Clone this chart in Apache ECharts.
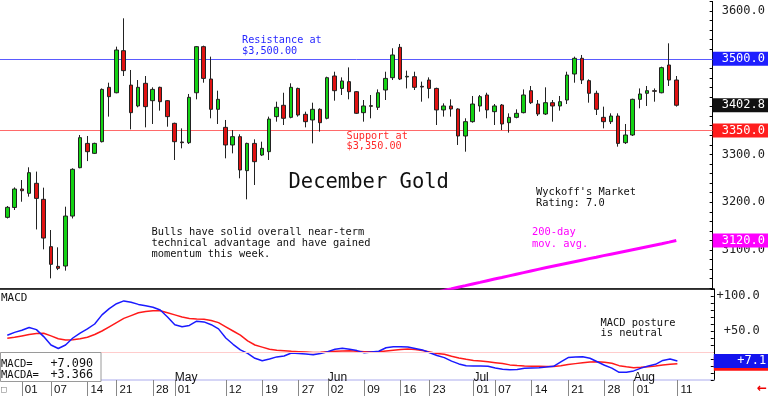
<!DOCTYPE html>
<html>
<head>
<meta charset="utf-8">
<script src="https://cdn.jsdelivr.net/npm/echarts@6/dist/echarts.min.js"></script>
<style>html,body{margin:0;padding:0;background:#fff}#c{width:768px;height:396px}</style>
</head>
<body>
<div id="c"></div>
<script>
// ---- data ----
const dates = ['03-28','03-31','04-01','04-02','04-03','04-04','04-07','04-08','04-09','04-10','04-11','04-14','04-15','04-16','04-17','04-21','04-22','04-23','04-24','04-25','04-28','04-29','04-30','05-01','05-02','05-05','05-06','05-07','05-08','05-09','05-12','05-13','05-14','05-15','05-16','05-19','05-20','05-21','05-22','05-23','05-27','05-28','05-29','05-30','06-02','06-03','06-04','06-05','06-06','06-09','06-10','06-11','06-12','06-13','06-16','06-17','06-18','06-20','06-23','06-24','06-25','06-26','06-27','06-30','07-01','07-02','07-03','07-07','07-08','07-09','07-10','07-11','07-14','07-15','07-16','07-17','07-18','07-21','07-22','07-23','07-24','07-25','07-28','07-29','07-30','07-31','08-01','08-04','08-05','08-06','08-07','08-08','08-11'];

const opens = [3168.3,3189.0,3227.6,3218.6,3239.5,3206.0,3107.0,3065.8,3066.5,3171.0,3272.2,3323.0,3302.2,3326.6,3440.3,3429.0,3517.0,3445.0,3401.3,3448.7,3412.4,3440.3,3412.4,3365.0,3326.0,3324.5,3429.0,3525.4,3457.7,3394.3,3356.6,3319.7,3337.1,3266.0,3323.0,3298.7,3305.7,3379.0,3402.7,3377.5,3438.0,3383.8,3372.0,3394.3,3375.5,3464.0,3438.0,3452.2,3431.2,3387.3,3402.0,3398.5,3434.7,3460.5,3524.0,3462.0,3462.6,3442.4,3455.6,3438.0,3393.0,3401.3,3395.0,3338.5,3368.5,3401.3,3424.3,3389.4,3403.3,3366.4,3377.5,3387.3,3433.3,3405.4,3384.5,3408.2,3401.3,3413.8,3468.2,3501.0,3454.3,3427.8,3377.5,3368.5,3380.3,3324.5,3340.6,3415.2,3427.8,3433.3,3429.0,3487.0,3455.6];
const closes = [3189.3,3227.6,3224.0,3261.8,3208.0,3125.0,3070.0,3061.6,3171.0,3268.8,3335.0,3305.7,3323.0,3436.0,3420.8,3518.4,3475.2,3387.3,3440.3,3399.9,3436.0,3410.3,3379.0,3326.6,3324.5,3419.4,3525.4,3459.0,3394.3,3415.2,3319.7,3337.1,3267.4,3323.0,3284.8,3312.7,3374.0,3398.5,3375.5,3440.3,3382.4,3368.5,3394.3,3366.4,3460.5,3433.3,3453.6,3431.2,3386.0,3401.3,3400.6,3429.0,3459.0,3508.0,3457.7,3463.3,3440.3,3441.0,3438.0,3393.0,3401.3,3395.0,3338.5,3368.5,3405.4,3420.8,3393.0,3401.3,3363.6,3377.5,3385.9,3424.3,3408.2,3384.5,3408.2,3401.3,3410.3,3466.0,3501.0,3455.6,3427.8,3394.3,3368.5,3380.3,3323.0,3340.6,3415.2,3426.4,3433.3,3432.0,3481.5,3455.6,3402.8];
const lows = [3166.0,3183.7,3201.0,3211.6,3143.0,3101.4,3040.7,3058.0,3056.8,3166.0,3271.0,3286.0,3300.8,3325.0,3379.0,3427.8,3464.0,3352.4,3398.5,3356.6,3363.6,3391.5,3358.0,3288.3,3312.7,3321.8,3415.2,3450.0,3375.5,3363.6,3291.8,3302.2,3250.0,3206.0,3236.0,3296.7,3288.3,3368.5,3361.5,3375.5,3379.0,3356.6,3323.0,3347.6,3373.4,3412.4,3424.3,3415.2,3384.5,3368.5,3375.5,3393.0,3413.8,3455.6,3455.6,3438.0,3434.7,3410.3,3417.3,3361.5,3379.0,3379.0,3319.7,3305.7,3366.4,3389.4,3375.5,3361.5,3351.0,3345.5,3375.5,3385.9,3405.4,3380.3,3382.4,3368.5,3391.5,3405.4,3450.0,3447.3,3408.2,3382.4,3354.5,3363.6,3316.2,3321.8,3338.5,3396.4,3401.3,3410.3,3427.8,3443.1,3400.0];
const highs = [3192.0,3231.0,3246.4,3273.0,3264.0,3230.4,3141.8,3105.6,3190.6,3271.0,3340.6,3338.5,3324.5,3438.0,3450.0,3525.4,3584.7,3476.6,3455.6,3464.0,3440.3,3441.7,3413.8,3366.4,3354.5,3426.4,3526.8,3527.5,3504.5,3433.3,3372.0,3351.0,3342.0,3324.5,3331.5,3326.6,3379.0,3410.3,3429.0,3448.7,3439.6,3389.4,3408.2,3396.4,3462.6,3473.0,3461.2,3482.0,3432.6,3413.8,3424.3,3436.0,3473.0,3522.0,3531.0,3475.2,3473.0,3452.2,3461.2,3439.6,3406.8,3415.2,3396.4,3375.5,3422.2,3424.3,3429.0,3405.4,3405.4,3385.9,3394.3,3436.0,3443.1,3413.8,3440.3,3413.8,3422.2,3473.0,3504.5,3508.0,3457.0,3433.3,3399.9,3385.9,3385.9,3363.6,3416.6,3438.0,3443.1,3438.0,3483.5,3532.4,3464.0];

// 200-day moving average, starting at ma200Start
const ma200Start = '06-23';
const ma200 = [3008.0,3011.6,3015.1,3018.5,3022.0,3025.4,3028.9,3032.3,3035.8,3039.2,3042.5,3045.9,3049.3,3052.7,3056.1,3059.4,3062.7,3065.9,3069.1,3072.3,3075.5,3078.7,3081.9,3085.0,3088.2,3091.3,3094.4,3097.5,3100.6,3103.7,3106.8,3109.9,3113.0,3116.4,3120.0];

const macd = [44,48,51,55,52,42,30,25,30,40,47,53,60,73,82,89,93,91,88,86,84,80,70,59,56,58,64,63,59,53,40,31,23,18,11,7.6,10,13,14.3,18.5,18,17,16,18,20.5,24,25.5,24,22,19,20,21,26,27.6,27.6,27,25,23,19,15,12,7,3,0.5,0,0,-0.5,-3,-4.5,-5.5,-5,-3.3,-2.8,-2.4,-1.5,-0.5,6,12,13,13.3,11,6,1,-3,-9,-9,-7,-3,0,2.4,8,10,7.09];
const macda = [39.5,41,43,45,46.5,46.7,43,39,37,37.5,39,41,45,50,56,62,68,72,76,78,79,78.8,76,73,70,68,67,66.7,65,62,56,50,44,36,30,27,24,22.5,21.9,21,20.5,20,19.2,19.5,20.3,21,21.5,21.9,21,20.5,20.5,20.5,21.5,22.5,23.5,24.3,23.5,22,20,18,16.7,14,11.5,9.5,8,7,6,4.8,3.5,1.6,0.8,0.1,-0.2,-0.4,-0.6,-0.8,0.5,2,3.4,4.8,5.6,6.2,5.5,4,0.5,-1,-2.4,-1.8,-1,0,1.4,2.5,3.366];

const resistance = 3500;
const support = 3350;
const macdRefLevel = 19;

const dayTicks = ['04-01','04-07','04-14','04-21','04-28','05-01','05-12','05-19','05-27','06-02','06-09','06-16','06-23','07-01','07-07','07-14','07-21','07-28','08-01','08-11'];
const monthTicks = ['05-01','06-02','07-01','08-01'];
const monthNames = ['May','Jun','Jul','Aug'];

// ---- build ----
const cats = ['s0'].concat(dates, ['e1','e2','e3','e4','e5']);
const pos = d => dates.indexOf(d) + 1;
const candleData = dates.map((d, i) => [i + 1, opens[i], closes[i], lows[i], highs[i]]);
const maData = ma200.map((v, k) => [pos(ma200Start) + k, v]);
const macdData = macd.map((v, i) => [i + 1, v]);
const macdaData = macda.map((v, i) => [i + 1, v]);

const MONO = 'DejaVu Sans Mono';
const SANS = 'Liberation Sans';

function box(bg, text) {
  return {
    show: true, position: 'end', distance: 0, formatter: text,
    color: '#fff', backgroundColor: bg, fontFamily: MONO, fontSize: 12,
    lineHeight: 12, padding: [1, 4, 1, 9]
  };
}
const noLine = { color: 'rgba(0,0,0,0)', width: 0.01 };

const isDayTick = (idx, val) => dayTicks.indexOf(val) >= 0;
const isMonthTick = (idx, val) => monthTicks.indexOf(val) >= 0;

function txt(x, y, text, opt) {
  return {
    type: 'text', x: x, y: y, z: 101, silent: true,
    style: Object.assign({
      text: text, fill: '#111', fontFamily: MONO, fontSize: 10.4,
      verticalAlign: 'top', align: 'left'
    }, opt || {})
  };
}

const chart = echarts.init(document.getElementById('c'), null, { renderer: 'canvas' });
chart.setOption({
  animation: false,
  backgroundColor: '#fff',
  grid: [
    { left: -1.5, right: 54.2, top: 1.44, height: 286.8 },
    { left: -1.5, right: 54.2, top: 289, height: 91 }
  ],
  xAxis: [
    { type: 'category', gridIndex: 0, data: cats, boundaryGap: false,
      axisLine: { onZero: false, lineStyle: { color: '#aaa' } },
      axisTick: { show: false }, axisLabel: { show: false }, splitLine: { show: false } },
    { type: 'category', gridIndex: 1, data: cats, boundaryGap: false, position: 'bottom',
      axisLine: { onZero: false, lineStyle: { color: '#c8c8f4', width: 1.5 } },
      axisTick: { show: true, interval: isDayTick, length: 16, lineStyle: { color: '#888' } },
      axisLabel: { interval: isDayTick, formatter: v => v.slice(3), align: 'left',
        padding: [0, 0, 0, 3], margin: 4, fontFamily: SANS, fontSize: 11.5, color: '#111' },
      splitLine: { show: false } },
    { type: 'category', gridIndex: 1, data: cats, boundaryGap: false, position: 'bottom',
      axisLine: { show: false, onZero: false }, axisTick: { show: false },
      axisLabel: { inside: true, interval: isMonthTick,
        formatter: v => monthNames[monthTicks.indexOf(v)] || '', align: 'left',
        margin: -4, fontFamily: SANS, fontSize: 12, color: '#111' },
      splitLine: { show: false } },
    { type: 'category', gridIndex: 1, data: cats, boundaryGap: false, position: 'top',
      axisLine: { onZero: false, lineStyle: { color: '#000', width: 1.5 } },
      axisTick: { show: false }, axisLabel: { show: false }, splitLine: { show: false } }
  ],
  yAxis: [
    { type: 'value', gridIndex: 0, position: 'right', min: 3020, max: 3620, interval: 20, scale: true,
      axisLine: { show: true, lineStyle: { color: '#000' } },
      axisTick: { show: true, inside: true, length: 3, lineStyle: { color: '#000' } },
      splitLine: { show: false },
      axisLabel: { formatter: v => (v % 100 === 0 ? v.toFixed(1) : ''), margin: 9,
        fontFamily: MONO, fontSize: 12, color: '#222' } },
    { type: 'value', gridIndex: 1, position: 'right', min: -20, max: 110, interval: 10,
      axisLine: { show: true, lineStyle: { color: '#000' } },
      axisTick: { show: true, inside: true, length: 3, lineStyle: { color: '#000' } },
      splitLine: { show: false },
      axisLabel: { formatter: v => ((v === 50 || v === 100) ? '+' + v.toFixed(1) : ''),
        align: 'right', margin: 46, fontFamily: MONO, fontSize: 12, color: '#222' } }
  ],
  series: [
    { type: 'candlestick', xAxisIndex: 0, yAxisIndex: 0, data: candleData,
      encode: { x: 0, y: [1, 2, 3, 4] }, barWidth: 4, z: 3,
      itemStyle: { color: '#14d214', color0: '#e01212', borderColor: '#222', borderColor0: '#222', borderWidth: 1 },
      markLine: { silent: true, symbol: 'none', z: 2,
        data: [
          { yAxis: resistance, lineStyle: { color: '#5a5aff', width: 1, type: 'solid' }, label: box('#1e1eff', p => Number(p.value).toFixed(1)) },
          { yAxis: support, lineStyle: { color: '#ff6a6a', width: 1, type: 'solid' }, label: box('#ff1e1e', p => Number(p.value).toFixed(1)) },
          { yAxis: closes[closes.length - 1], lineStyle: noLine, label: box('#111', p => Number(p.value).toFixed(1)) }
        ] } },
    { type: 'line', xAxisIndex: 0, yAxisIndex: 0, data: maData, symbol: 'none', z: 2,
      lineStyle: { color: '#ff00ff', width: 3 },
      markLine: { silent: true, symbol: 'none',
        data: [ { yAxis: ma200[ma200.length - 1], lineStyle: noLine, label: box('#ff00ff', p => Number(p.value).toFixed(1)) } ] } },
    { type: 'line', xAxisIndex: 1, yAxisIndex: 1, data: macdaData, symbol: 'none', z: 3,
      lineStyle: { color: '#ff1a1a', width: 1.5 },
      markLine: { silent: true, symbol: 'none',
        data: [
          { yAxis: macdRefLevel, lineStyle: { color: '#ffcccc', width: 1, type: 'solid' }, label: { show: false } },
          { yAxis: macda[macda.length - 1], lineStyle: noLine, label: box('#ff1010', p => ('+' + Number(p.value).toFixed(1)).padStart(6, ' ')) }
        ] } },
    { type: 'line', xAxisIndex: 1, yAxisIndex: 1, data: macdData, symbol: 'none', z: 4,
      lineStyle: { color: '#1a1aff', width: 1.5 },
      markLine: { silent: true, symbol: 'none',
        data: [ { yAxis: macd[macd.length - 1], lineStyle: noLine, label: box('#1414ee', p => ('+' + Number(p.value).toFixed(1)).padStart(6, ' ')) } ] } }
  ],
  graphic: { elements: [
    txt(242, 35.5, 'Resistance at\n$3,500.00', { fill: '#2828ff', fontSize: 10.2, lineHeight: 10.5 }),
    txt(346.5, 131.7, 'Support at\n$3,350.00', { fill: '#ff2a2a', fontSize: 10.2, lineHeight: 10 }),
    txt(288.5, 182.5, 'December Gold', { fontSize: 20.5, verticalAlign: 'middle', fill: '#111' }),
    txt(536, 187.5, "Wyckoff's Market\nRating: 7.0", { lineHeight: 10.2 }),
    txt(151.5, 227.2, 'Bulls have solid overall near-term\ntechnical advantage and have gained\nmomentum this week.', { lineHeight: 11 }),
    txt(532, 227, '200-day\nmov. avg.', { fill: '#ff00ff', lineHeight: 11.5 }),
    txt(600.5, 318.3, 'MACD posture\nis neutral', { lineHeight: 10 }),
    txt(1, 298.5, 'MACD', { fontSize: 11, verticalAlign: 'middle' }),
    { type: 'rect', z: 100, silent: true, shape: { x: 0.5, y: 352.5, width: 100.5, height: 29 },
      style: { fill: '#fff', stroke: '#9a9a9a', lineWidth: 1 } },
    txt(1, 364, 'MACD=', { fontSize: 10.5, verticalAlign: 'middle' }),
    txt(50.5, 364, '+7.090', { fontSize: 11.8, verticalAlign: 'middle' }),
    txt(1, 375, 'MACDA=', { fontSize: 10.5, verticalAlign: 'middle' }),
    txt(50.5, 375, '+3.366', { fontSize: 11.8, verticalAlign: 'middle' }),
    txt(1, 389.5, '\u25A1', { fill: '#777', fontSize: 9, verticalAlign: 'middle' }),
    txt(757, 388.5, '\u2190', { fill: '#ee0000', fontSize: 12, fontWeight: 'bold', verticalAlign: 'middle', fontFamily: 'DejaVu Sans' })
  ] }
});
</script>
</body>
</html>
